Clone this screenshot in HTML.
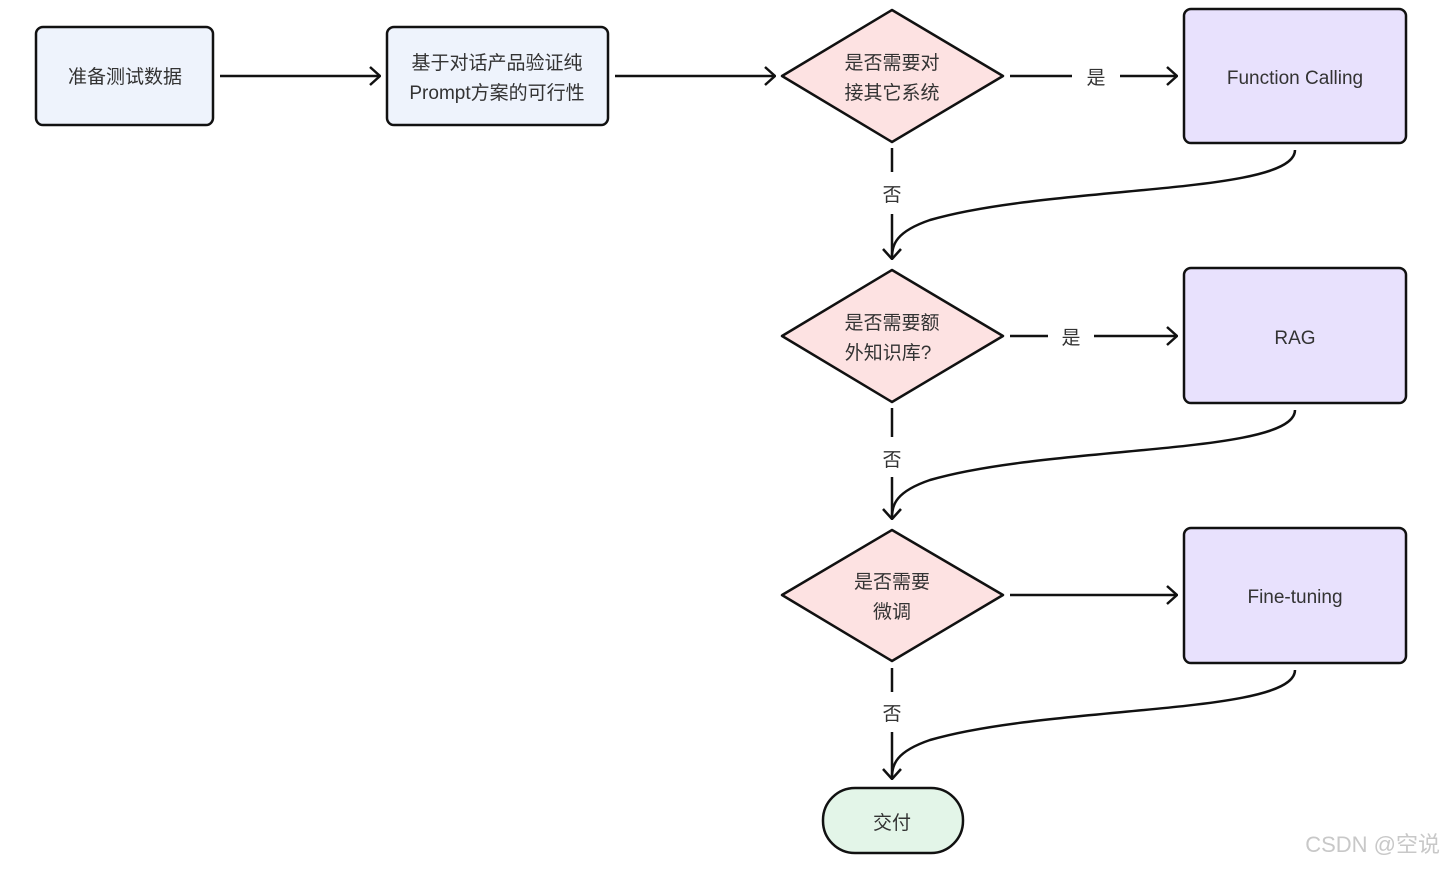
<!DOCTYPE html>
<html><head><meta charset="utf-8"><style>
html,body{margin:0;padding:0;background:#fff;}
svg text{font-family:"Liberation Sans","Noto Sans CJK SC",sans-serif;fill:#333;}
</style></head><body>
<svg width="1445" height="869" viewBox="0 0 1445 869" xmlns="http://www.w3.org/2000/svg">
<defs>
<marker id="a" viewBox="0 0 12 20" refX="11" refY="10" markerWidth="12" markerHeight="20" markerUnits="userSpaceOnUse" orient="auto">
<path d="M1 1 L11 10 L1 19" fill="none" stroke="#111" stroke-width="2.5"/></marker>
</defs>
<g stroke="#111" stroke-width="2.5">
<rect x="36" y="27" width="177" height="98" rx="7" fill="#eef3fc"/>
<rect x="387" y="27" width="221" height="98" rx="7" fill="#eef3fc"/>
<polygon points="782,76 892,10 1003,76 892,142" fill="#fde2e2" stroke-linejoin="round"/>
<polygon points="782,336 892,270 1003,336 892,402" fill="#fde2e2" stroke-linejoin="round"/>
<polygon points="782,595 892,530 1003,595 892,661" fill="#fde2e2" stroke-linejoin="round"/>
<rect x="1184" y="9" width="222" height="134" rx="7" fill="#e8e1fd"/>
<rect x="1184" y="268" width="222" height="135" rx="7" fill="#e8e1fd"/>
<rect x="1184" y="528" width="222" height="135" rx="7" fill="#e8e1fd"/>
<rect x="823" y="788" width="140" height="65" rx="32" fill="#e3f5e8"/>
</g>
<g stroke="#111" stroke-width="2.5" fill="none">
<line x1="220" y1="76" x2="380" y2="76" marker-end="url(#a)"/>
<line x1="615" y1="76" x2="775" y2="76" marker-end="url(#a)"/>
<line x1="1010" y1="76" x2="1072" y2="76"/>
<line x1="1120" y1="76" x2="1177" y2="76" marker-end="url(#a)"/>
<line x1="1010" y1="336" x2="1048" y2="336"/>
<line x1="1094" y1="336" x2="1177" y2="336" marker-end="url(#a)"/>
<line x1="1010" y1="595" x2="1177" y2="595" marker-end="url(#a)"/>
<line x1="892" y1="148" x2="892" y2="172"/>
<line x1="892" y1="214" x2="892" y2="259" marker-end="url(#a)"/>
<line x1="892" y1="408" x2="892" y2="437"/>
<line x1="892" y1="477" x2="892" y2="519" marker-end="url(#a)"/>
<line x1="892" y1="668" x2="892" y2="692"/>
<line x1="892" y1="732" x2="892" y2="779" marker-end="url(#a)"/>
<path d="M1295 150 C1295 195, 1050 185, 930 220 C895 232, 893 245, 892 255"/>
<path d="M1295 410 C1295 455, 1050 445, 930 480 C895 492, 893 505, 892 515"/>
<path d="M1295 670 C1295 715, 1050 705, 930 740 C895 752, 893 765, 892 775"/>
</g>
<g font-size="19" text-anchor="middle">
<text x="125" y="83">准备测试数据</text>
<text x="497" y="69">基于对话产品验证纯</text>
<text x="497" y="99">Prompt方案的可行性</text>
<text x="892" y="69">是否需要对</text>
<text x="892" y="99">接其它系统</text>
<text x="892" y="329">是否需要额</text>
<text x="888" y="359">外知识库?</text>
<text x="892" y="588">是否需要</text>
<text x="892" y="618">微调</text>
<text x="1295" y="84">Function Calling</text>
<text x="1295" y="344">RAG</text>
<text x="1295" y="603">Fine-tuning</text>
<text x="892" y="829">交付</text>
<text x="1096" y="84">是</text>
<text x="1071" y="344">是</text>
<text x="892" y="201">否</text>
<text x="892" y="466">否</text>
<text x="892" y="720">否</text>
</g>
<text x="1440" y="852" font-size="22" text-anchor="end" style="fill:#c8c8c8">CSDN @空说</text>
</svg>
</body></html>
